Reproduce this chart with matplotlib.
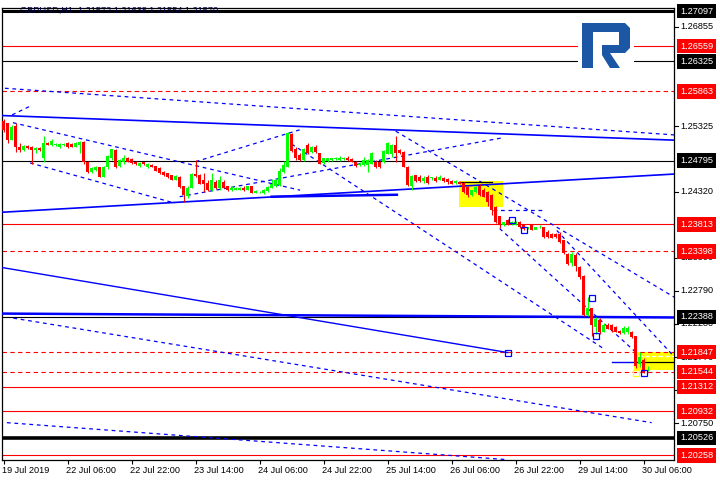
import matplotlib
matplotlib.use("Agg")
import matplotlib.pyplot as plt
import numpy as np
from matplotlib.patches import Rectangle, Polygon
from matplotlib.transforms import blended_transform_factory

# GBPUSD H1 candles, 19 Jul 2019 14:00 .. 30 Jul 2019 07:00
opens = [1.2541, 1.2537, 1.2512, 1.2533, 1.2501, 1.2496, 1.2502, 1.2500, 1.2496, 1.2499,
         1.2483, 1.2506, 1.2504, 1.2503, 1.2501, 1.2503, 1.2506, 1.2505, 1.2501, 1.2503,
         1.2509, 1.2478, 1.2462, 1.2465, 1.2469, 1.2455, 1.2470, 1.2483, 1.2496, 1.2472,
         1.2478, 1.2483, 1.2482, 1.2478, 1.2471, 1.2477, 1.2469, 1.2473, 1.2471, 1.2468,
         1.2462, 1.2460, 1.2457, 1.2450, 1.2455, 1.2440, 1.2425, 1.2438, 1.2459, 1.2457,
         1.2450, 1.2445, 1.2434, 1.2447, 1.2437, 1.2447, 1.2440, 1.2434, 1.2435, 1.2435,
         1.2438, 1.2435, 1.2440, 1.2430, 1.2431, 1.2429, 1.2433, 1.2438, 1.2440, 1.2442,
         1.2462, 1.2470, 1.2520, 1.2498, 1.2488, 1.2480, 1.2504, 1.2493, 1.2501, 1.2491,
         1.2476, 1.2479, 1.2480, 1.2482, 1.2480, 1.2482, 1.2484, 1.2482, 1.2478, 1.2473,
         1.2473, 1.2473, 1.2475, 1.2478, 1.2478, 1.2477, 1.2490, 1.2490, 1.2504, 1.2496,
         1.2493, 1.2470, 1.2440, 1.2457, 1.2455, 1.2448, 1.2455, 1.2453, 1.2453, 1.2450,
         1.2453, 1.2452, 1.2448, 1.2445, 1.2447, 1.2445, 1.2439, 1.2426, 1.2431, 1.2440,
         1.2435, 1.2431, 1.2426, 1.2408, 1.2394, 1.2380, 1.2388, 1.2382, 1.2381, 1.2385,
         1.2380, 1.2376, 1.2380, 1.2373, 1.2377, 1.2377, 1.2370, 1.2366, 1.2367, 1.2367,
         1.2357, 1.2336, 1.2322, 1.2334, 1.2316, 1.2302, 1.2242, 1.2252, 1.2223, 1.2234,
         1.2216, 1.2226, 1.2226, 1.2223, 1.2217, 1.2214, 1.2215, 1.2216, 1.2209, 1.2167,
         1.2172, 1.2157]
closes = [1.2526, 1.2512, 1.2532, 1.2501, 1.2496, 1.2502, 1.2499, 1.2496, 1.2499, 1.2496,
          1.2506, 1.2504, 1.2510, 1.2505, 1.2505, 1.2505, 1.2501, 1.2501, 1.2506, 1.2509,
          1.2478, 1.2462, 1.2468, 1.2469, 1.2455, 1.2470, 1.2486, 1.2497, 1.2470, 1.2481,
          1.2483, 1.2478, 1.2476, 1.2474, 1.2476, 1.2474, 1.2475, 1.2470, 1.2464, 1.2460,
          1.2457, 1.2455, 1.2450, 1.2456, 1.2439, 1.2426, 1.2438, 1.2459, 1.2456, 1.2444,
          1.2444, 1.2434, 1.2450, 1.2437, 1.2450, 1.2438, 1.2434, 1.2438, 1.2437, 1.2438,
          1.2434, 1.2440, 1.2430, 1.2433, 1.2432, 1.2435, 1.2439, 1.2444, 1.2450, 1.2464,
          1.2473, 1.2522, 1.2495, 1.2483, 1.2480, 1.2497, 1.2491, 1.2500, 1.2493, 1.2475,
          1.2483, 1.2483, 1.2483, 1.2483, 1.2484, 1.2484, 1.2480, 1.2478, 1.2471, 1.2475,
          1.2481, 1.2481, 1.2491, 1.2469, 1.2469, 1.2495, 1.2506, 1.2503, 1.2491, 1.2491,
          1.2470, 1.2442, 1.2456, 1.2448, 1.2448, 1.2453, 1.2445, 1.2453, 1.2448, 1.2455,
          1.2448, 1.2446, 1.2444, 1.2448, 1.2444, 1.2431, 1.2426, 1.2434, 1.2439, 1.2426,
          1.2424, 1.2416, 1.2403, 1.2385, 1.2380, 1.2385, 1.2382, 1.2385, 1.2385, 1.2378,
          1.2375, 1.2376, 1.2373, 1.2377, 1.2377, 1.2362, 1.2362, 1.2361, 1.2362, 1.2354,
          1.2337, 1.2321, 1.2335, 1.2318, 1.2300, 1.2242, 1.2252, 1.2226, 1.2236, 1.2216,
          1.2226, 1.2221, 1.2218, 1.2216, 1.2214, 1.2222, 1.2222, 1.2208, 1.2164, 1.2177,
          1.2154, 1.2157]
highs = [1.2543, 1.2538, 1.2534, 1.2538, 1.2507, 1.2504, 1.2504, 1.2502, 1.2501, 1.2500,
         1.2518, 1.2509, 1.2513, 1.2507, 1.2506, 1.2506, 1.2508, 1.2506, 1.2508, 1.2510,
         1.2510, 1.2479, 1.2470, 1.2471, 1.2470, 1.2472, 1.2488, 1.2498, 1.2497, 1.2482,
         1.2488, 1.2485, 1.2483, 1.2479, 1.2478, 1.2478, 1.2476, 1.2474, 1.2472, 1.2469,
         1.2463, 1.2461, 1.2458, 1.2457, 1.2456, 1.2441, 1.2440, 1.2460, 1.2481, 1.2459,
         1.2460, 1.2450, 1.2460, 1.2449, 1.2456, 1.2449, 1.2441, 1.2440, 1.2439, 1.2439,
         1.2440, 1.2441, 1.2441, 1.2434, 1.2433, 1.2436, 1.2440, 1.2451, 1.2451, 1.2468,
         1.2479, 1.2524, 1.2522, 1.2500, 1.2492, 1.2499, 1.2506, 1.2502, 1.2504, 1.2492,
         1.2484, 1.2484, 1.2484, 1.2485, 1.2486, 1.2485, 1.2486, 1.2483, 1.2479, 1.2477,
         1.2485, 1.2482, 1.2493, 1.2481, 1.2479, 1.2496, 1.2509, 1.2505, 1.2518, 1.2498,
         1.2495, 1.2471, 1.2457, 1.2458, 1.2457, 1.2456, 1.2457, 1.2455, 1.2456, 1.2457,
         1.2455, 1.2453, 1.2450, 1.2450, 1.2448, 1.2446, 1.2441, 1.2435, 1.2440, 1.2444,
         1.2437, 1.2433, 1.2428, 1.2410, 1.2395, 1.2382, 1.2390, 1.2386, 1.2387, 1.2386,
         1.2382, 1.2378, 1.2381, 1.2378, 1.2380, 1.2378, 1.2372, 1.2368, 1.2368, 1.2369,
         1.2358, 1.2338, 1.2339, 1.2337, 1.2318, 1.2303, 1.2270, 1.2252, 1.2238, 1.2237,
         1.2230, 1.2229, 1.2228, 1.2225, 1.2218, 1.2225, 1.2225, 1.2217, 1.2210, 1.2185,
         1.2175, 1.2164]
lows = [1.2524, 1.2507, 1.2511, 1.2493, 1.2493, 1.2495, 1.2498, 1.2474, 1.2492, 1.2494,
        1.2478, 1.2503, 1.2502, 1.2502, 1.2499, 1.2502, 1.2499, 1.2500, 1.2500, 1.2491,
        1.2475, 1.2461, 1.2460, 1.2463, 1.2454, 1.2454, 1.2467, 1.2481, 1.2468, 1.2470,
        1.2475, 1.2477, 1.2475, 1.2473, 1.2470, 1.2473, 1.2468, 1.2469, 1.2463, 1.2459,
        1.2456, 1.2453, 1.2449, 1.2449, 1.2438, 1.2416, 1.2422, 1.2437, 1.2455, 1.2443,
        1.2431, 1.2433, 1.2433, 1.2436, 1.2435, 1.2437, 1.2433, 1.2433, 1.2434, 1.2434,
        1.2433, 1.2434, 1.2429, 1.2429, 1.2430, 1.2428, 1.2432, 1.2437, 1.2439, 1.2441,
        1.2461, 1.2469, 1.2493, 1.2480, 1.2479, 1.2479, 1.2490, 1.2492, 1.2492, 1.2474,
        1.2475, 1.2478, 1.2479, 1.2481, 1.2479, 1.2481, 1.2479, 1.2477, 1.2469, 1.2472,
        1.2472, 1.2462, 1.2474, 1.2468, 1.2468, 1.2476, 1.2489, 1.2485, 1.2478, 1.2489,
        1.2469, 1.2441, 1.2434, 1.2446, 1.2446, 1.2445, 1.2444, 1.2450, 1.2447, 1.2449,
        1.2447, 1.2444, 1.2443, 1.2443, 1.2443, 1.2430, 1.2424, 1.2425, 1.2430, 1.2425,
        1.2423, 1.2410, 1.2396, 1.2383, 1.2376, 1.2379, 1.2380, 1.2380, 1.2380, 1.2376,
        1.2373, 1.2375, 1.2372, 1.2375, 1.2376, 1.2360, 1.2360, 1.2360, 1.2360, 1.2352,
        1.2335, 1.2319, 1.2318, 1.2310, 1.2298, 1.2240, 1.2240, 1.2210, 1.2212, 1.2213,
        1.2215, 1.2220, 1.2216, 1.2215, 1.2213, 1.2213, 1.2213, 1.2206, 1.2160, 1.2162,
        1.2152, 1.2155]

time_labels = ["19 Jul 2019", "22 Jul 06:00", "22 Jul 22:00", "23 Jul 14:00",
               "24 Jul 06:00", "24 Jul 22:00", "25 Jul 14:00", "26 Jul 06:00",
               "26 Jul 22:00", "29 Jul 14:00", "30 Jul 06:00"]
label_bars = [0, 16, 32, 48, 64, 80, 96, 112, 128, 144, 160]

# horizontal levels (price, colour, style, width)
levels = [(1.27097, "black", "-", 2.2), (1.26559, "red", "-", 0.8), (1.26325, "black", "-", 0.8),
          (1.25863, "red", "--", 0.8), (1.24795, "black", "-", 0.8), (1.23813, "red", "-", 0.8),
          (1.23398, "red", "--", 0.8), (1.22388, "black", "-", 0.8), (1.21847, "red", "--", 0.8),
          (1.21544, "red", "--", 0.8), (1.21312, "red", "-", 0.8), (1.20932, "red", "-", 0.8),
          (1.20526, "black", "-", 2.6), (1.20258, "red", "-", 0.8)]
axis_ticks = [1.26855, 1.25325, 1.24320, 1.23300, 1.22790, 1.22280, 1.21770, 1.21260, 1.20750]

# trend lines: (bar0, price0, bar1, price1, style, width)
trends = [(-0.5, 1.2549, 168, 1.2511, "-", 1.2),
          (0.3, 1.2591, 168, 1.2519, "--", 0.9),
          (2.1, 1.2550, 6.8, 1.2564, "--", 0.9),
          (-0.5, 1.2400, 168, 1.2459, "-", 1.2),
          (67, 1.2424, 98.3, 1.2427, "-", 1.8),
          (2.3, 1.2538, 74.1, 1.2434, "--", 0.9),
          (6.6, 1.2476, 42.8, 1.2414, "--", 0.9),
          (48, 1.2478, 74, 1.2527, "--", 0.9),
          (44, 1.2424, 125, 1.2515, "--", 0.9),
          (72, 1.2505, 150, 1.2190, "--", 0.9),
          (98, 1.2525, 168, 1.2268, "--", 0.9),
          (124, 1.2375, 158.3, 1.2183, "--", 0.9),
          (138.3, 1.2372, 167.3, 1.2180, "--", 0.9),
          (122.3, 1.2404, 134.6, 1.2404, "--", 0.9),
          (-0.5, 1.2315, 126, 1.2184, "-", 1.0),
          (2.4, 1.2237, 162, 1.2076, "--", 0.9),
          (0.8, 1.2076, 126, 1.2019, "--", 0.9),
          (-0.5, 1.2244, 168, 1.2238, "-", 1.8),
          (152, 1.2169, 158.5, 1.2169, "-", 1.0)]
markers = [(127, 1.2388), (130, 1.2372), (147, 1.2268), (148, 1.2210), (126, 1.2184),
           (160, 1.2153)]

c_up, c_dn = "#00ff00", "#ff0000"
blue = "#0000ff"
font = "Liberation Sans"

fig = plt.figure(figsize=(7.2, 4.8), dpi=100)
ax = fig.add_axes([2 / 720, 20 / 480, 672 / 720, 452 / 480])
ax.set_xlim(-0.43, 167.6)
ax.set_ylim(1.20185, 1.27146)

# yellow zones
ax.add_patch(Rectangle((113.9, 1.24080), 11, 0.0040, fc="#ffff00", ec="none", zorder=1))
ax.add_patch(Rectangle((157.6, 1.21575), 12, 0.0028, fc="#ffff00", ec="none", zorder=1))

for price, col, ls, lw in levels:
    ax.axhline(price, color=col, ls=ls, lw=lw, zorder=2,
               dashes=(4, 3) if ls == "--" else (None, None))

for b0, p0, b1, p1, ls, lw in trends:
    ax.plot([b0, b1], [p0, p1], color=blue, lw=lw, ls=ls, zorder=3,
            dashes=(3, 3) if ls == "--" else (None, None))

ax.plot([113.8, 122.2], [1.2447, 1.2447], color="black", lw=0.9, zorder=3)
ax.plot([158.5, 168], [1.2169, 1.2169], color="black", lw=0.9, zorder=3)
ax.plot([158.5, 168], [1.2178, 1.2178], color="white", lw=0.9, ls="--", zorder=3)

# candles
x = np.arange(len(closes))
o, c, h, l = map(np.array, (opens, closes, highs, lows))
up = c >= o
cols = np.where(up, c_up, c_dn)
ax.vlines(x, l, h, colors=cols, lw=0.8, zorder=4)
bot = np.minimum(o, c)
hgt = np.maximum(np.abs(c - o), 0.00008)
ax.bar(x, hgt, bottom=bot, width=0.62, color=cols, lw=0, zorder=5)

for b, p in markers:
    ax.plot(b, p, marker="s", ms=4, mfc="none", mec=blue, mew=0.9, zorder=6)
ax.plot(158, 1.2152, marker="s", ms=4, mfc="none", mec="#ffff00", mew=0.9, zorder=6)

# axes styling
for side in ("left", "right", "bottom", "top"):
    ax.spines[side].set_linewidth(0.9)
ax.set_yticks([])
ax.set_xticks(label_bars)
ax.set_xticklabels([])
ax.tick_params(axis="x", length=3, width=0.8, direction="out")

fs = 6.6
for b, lab in zip(label_bars, time_labels):
    ax.text(b - 0.4, -0.013, lab, transform=blended_transform_factory(ax.transData, ax.transAxes),
            ha="left", va="top", fontsize=fs, family=font)

tr = blended_transform_factory(fig.transFigure, ax.transData)
for p in axis_ticks:
    ax.plot([1.0, 1.006], [p, p], color="black", lw=0.8,
            transform=blended_transform_factory(ax.transAxes, ax.transData), clip_on=False)
    ax.text(680 / 720, p, f"{p:.5f}", transform=tr, ha="left", va="center", fontsize=fs,
            family=font, zorder=7)
for price, col, ls, lw in levels:
    ax.text(680 / 720, price, f"{price:.5f}", transform=tr, ha="left", va="center",
            fontsize=fs, family=font, color="white", zorder=8,
            bbox=dict(boxstyle="square,pad=0.3", fc=col, ec="none"))

# header
fig.text(20 / 720, 1 - 10 / 480, "GBPUSD,H1  1.21572 1.21638 1.21554 1.21570", fontsize=fs,
         family=font, va="center", ha="left", color="#000040")
fig.text(6 / 720, 1 - 10 / 480, "\u25ac", fontsize=5, va="center", ha="left")

# logo
lax = fig.add_axes([578 / 720, 1 - 74 / 480, 56 / 720, 56 / 480])
lax.set_xlim(0, 56)
lax.set_ylim(56, 0)
lax.axis("off")
lax.add_patch(Rectangle((0, 0), 56, 56, fc="white", ec="none"))
logo_blue = "#1c57a5"
lax.add_patch(Polygon([(4, 5), (47, 5), (52, 10), (52, 30), (47, 35), (32, 35), (42, 50),
                       (32, 50), (24, 37), (24, 27), (41, 27), (41, 14), (15, 14), (15, 50),
                       (4, 50)], closed=True, fc=logo_blue, ec="none"))

fig.savefig("out.png", dpi=100)
